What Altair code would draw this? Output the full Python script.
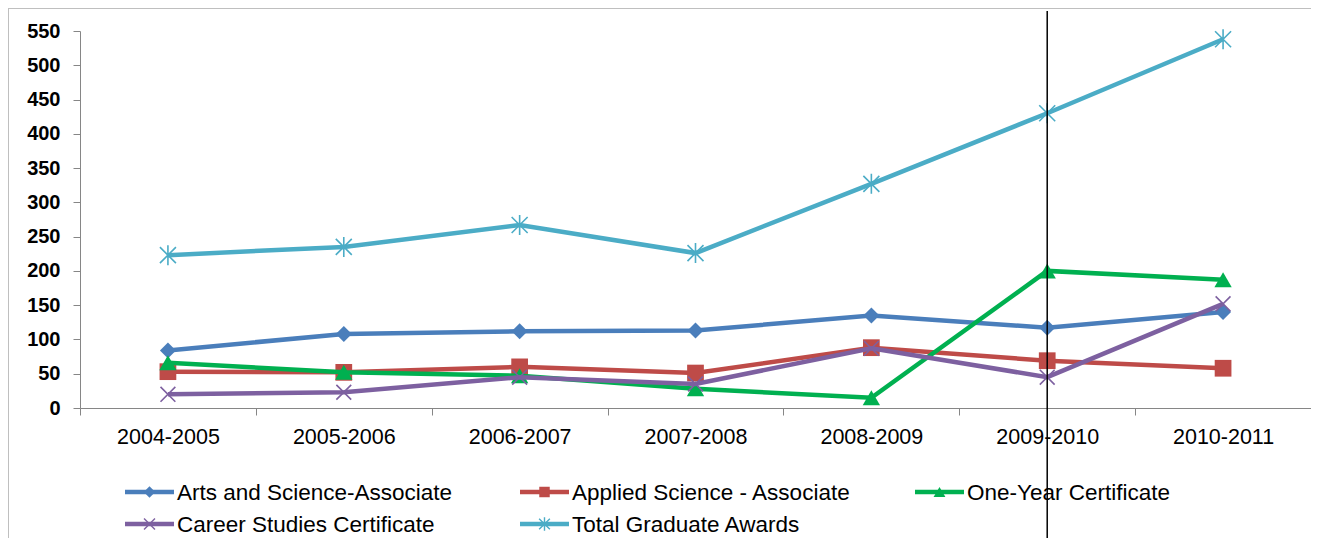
import altair as alt
import pandas as pd

# ---- data ----
years = ["2004-2005", "2005-2006", "2006-2007", "2007-2008", "2008-2009", "2009-2010", "2010-2011"]
series_names = [
    "Arts and Science-Associate",
    "Applied Science - Associate",
    "One-Year Certificate",
    "Career Studies Certificate",
    "Total Graduate Awards",
]
arts = [84, 108, 112, 113, 135, 117, 140]
applied = [53, 52, 60, 51, 88, 69, 58]
one_year = [66, 52, 47, 28, 15, 200, 187]
career = [20, 23, 45, 35, 87, 45, 152]
total = [223, 235, 267, 226, 327, 430, 538]
y_ticks = list(range(0, 551, 50))

values = [arts, applied, one_year, career, total]
rows = []
for name, vals in zip(series_names, values):
    for yr, v in zip(years, vals):
        rows.append({"series": name, "year": yr, "value": v})
df = pd.DataFrame(rows)

# ---- styles ----
colors = ["#4A7EBB", "#BE4B48", "#00B050", "#7D60A0", "#4BACC6"]
X_PATH = "M-1,-1L1,1M-1,1L1,-1"
STAR_PATH = "M0,-1L0,1M-0.8,-0.8L0.8,0.8M-0.8,0.8L0.8,-0.8"
markers = [
    dict(shape="diamond", size=256, filled=True, lsize=130),
    dict(shape="square", size=280, filled=True, lsize=110),
    dict(shape="triangle-up", size=300, filled=True, lsize=140),
    dict(shape=X_PATH, size=220, filled=False, lsize=120),
    dict(shape=STAR_PATH, size=400, filled=False, lsize=180),
]

W, H = 1231, 377
FONT = "Liberation Sans"
AXIS_GRAY = "#868686"

X = alt.X(
    "year:N",
    sort=years,
    bandPosition=0.5,
    scale=alt.Scale(type="band", domain=years, paddingInner=0, paddingOuter=0),
    axis=alt.Axis(
        title=None, labelAngle=0, tickBand="extent", tickSize=7, labelPadding=11,
        labelFont=FONT, labelFontSize=21.5, labelColor="black",
        domainColor=AXIS_GRAY, tickColor=AXIS_GRAY, grid=False,
    ),
)
Y = alt.Y(
    "value:Q",
    scale=alt.Scale(domain=[0, 550], nice=False, zero=True),
    axis=alt.Axis(
        title=None, values=y_ticks, grid=False, tickSize=7, labelPadding=13,
        labelFont=FONT, labelFontSize=20, labelFontWeight="bold", labelColor="black",
        domainColor=AXIS_GRAY, tickColor=AXIS_GRAY,
    ),
)

layers = []
one = pd.DataFrame({"k": [0]})

# frame (left and top edges of the chart box)
layers.append(alt.Chart(one).mark_rule(color="#BFBFBF", strokeWidth=1).encode(
    x=alt.value(-71.5), y=alt.value(-23), y2=alt.value(530)))
layers.append(alt.Chart(one).mark_rule(color="#BFBFBF", strokeWidth=1).encode(
    x=alt.value(-72), x2=alt.value(W + 20), y=alt.value(-22.5)))

for name, c, m in zip(series_names, colors, markers):
    base = alt.Chart(df).transform_filter(alt.datum.series == name)
    layers.append(base.mark_line(color=c, strokeWidth=4.5).encode(x=X, y=Y))
    if m["filled"]:
        pm = base.mark_point(shape=m["shape"], size=m["size"], filled=True,
                             color=c, opacity=1)
    else:
        pm = base.mark_point(shape=m["shape"], size=m["size"], filled=False,
                             color=c, opacity=1, strokeWidth=1.6)
    layers.append(pm.encode(x=X, y=Y))

# black vertical annotation line at 2009-2010
vline_df = pd.DataFrame({"year": ["2009-2010"], "value": [0]})
layers.append(alt.Chart(vline_df).mark_rule(color="black", strokeWidth=1.5).encode(
    x=X, y=alt.value(-20), y2=alt.value(530)))

# manual legend (line + marker + label), 3 columns x 2 rows
for i, (name, c, m) in enumerate(zip(series_names, colors, markers)):
    col, row = i % 3, i // 3
    x0 = 45 + col * 395
    ly = 461 + row * 32
    ldf = pd.DataFrame({"series": [name]})
    layers.append(alt.Chart(ldf).mark_rule(color=c, strokeWidth=4.5).encode(
        x=alt.value(x0), x2=alt.value(x0 + 49), y=alt.value(ly)))
    if m["filled"]:
        lp = alt.Chart(ldf).mark_point(shape=m["shape"], size=m["lsize"], filled=True,
                                       color=c, opacity=1)
    else:
        lp = alt.Chart(ldf).mark_point(shape=m["shape"], size=m["lsize"], filled=False,
                                       color=c, opacity=1, strokeWidth=1.4)
    layers.append(lp.encode(x=alt.value(x0 + 24.5), y=alt.value(ly)))
    layers.append(alt.Chart(ldf).mark_text(
        align="left", baseline="middle", font=FONT, fontSize=22.5, color="black").encode(
        x=alt.value(x0 + 52), y=alt.value(ly + 1), text="series:N"))

chart = alt.layer(*layers).properties(
    width=W,
    height=H,
    autosize=alt.AutoSizeParams(type="none"),
    padding={"left": 72, "top": 23, "right": 0, "bottom": 130},
    background="white",
).configure_view(stroke=None)

chart.save("out.html", embed_options={"renderer": "svg", "actions": False})
